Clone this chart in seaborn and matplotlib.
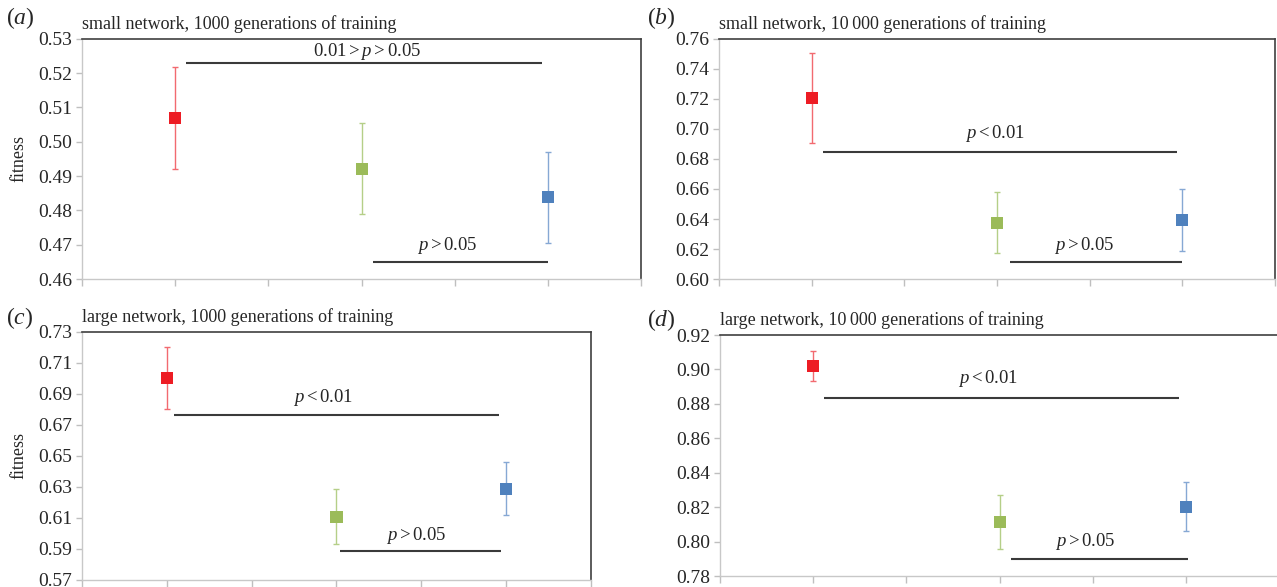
import numpy as np
import pandas as pd
import seaborn as sns
import matplotlib.pyplot as plt

# categories (three treatments, x positions 1..3)
groups = ['red', 'green', 'blue']
xpos = [1, 2, 3]
colors = ['#ed1c24', '#9bbb59', '#4f81bd']
err_colors = ['#f26a70', '#b5cf88', '#86a8d4']

panel_tags = ['a', 'b', 'c', 'd']
titles = ['small network, 1000 generations of training',
          'small network, 10\u2009000 generations of training',
          'large network, 1000 generations of training',
          'large network, 10\u2009000 generations of training']

# (a) small network, 1000 generations
mean_a = [0.5070, 0.4921, 0.4838]
low_a = [0.4921, 0.4789, 0.4704]
high_a = [0.5219, 0.5054, 0.4970]
# (b) small network, 10 000 generations
mean_b = [0.7204, 0.6376, 0.6394]
low_b = [0.6908, 0.6173, 0.6187]
high_b = [0.7504, 0.6581, 0.6603]
# (c) large network, 1000 generations
mean_c = [0.6999, 0.6104, 0.6287]
low_c = [0.6802, 0.5928, 0.6115]
high_c = [0.7203, 0.6282, 0.6458]
# (d) large network, 10 000 generations
mean_d = [0.9020, 0.8112, 0.8201]
low_d = [0.8933, 0.7957, 0.8059]
high_d = [0.9107, 0.8269, 0.8344]

yrange_a = (0.46, 0.53, 0.01)
yrange_b = (0.60, 0.76, 0.02)
yrange_c = (0.57, 0.73, 0.02)
yrange_d = (0.78, 0.92, 0.02)

# significance brackets: (x0, x1, y_line, text, x_text, y_text)
sig_a = [(1.06, 2.97, 0.5229, r'$\mathrm{0.01} > p > \mathrm{0.05}$', 2.03, 0.5262),
         (2.06, 3.00, 0.4649, r'$p > \mathrm{0.05}$', 2.46, 0.4699)]
sig_b = [(1.06, 2.97, 0.6843, r'$p < \mathrm{0.01}$', 1.99, 0.6972),
         (2.07, 3.00, 0.6111, r'$p > \mathrm{0.05}$', 2.47, 0.6227)]
sig_c = [(1.04, 2.96, 0.6763, r'$p < \mathrm{0.01}$', 1.92, 0.6875),
         (2.02, 2.97, 0.5883, r'$p > \mathrm{0.05}$', 2.47, 0.5985)]
sig_d = [(1.06, 2.96, 0.8836, r'$p < \mathrm{0.01}$', 1.94, 0.8945),
         (2.06, 3.01, 0.7901, r'$p > \mathrm{0.05}$', 2.46, 0.8003)]

sns.set_style('white')
plt.rcParams['font.family'] = ['Liberation Serif', 'DejaVu Serif']
plt.rcParams['mathtext.fontset'] = 'custom'
plt.rcParams['mathtext.rm'] = 'Liberation Serif'
plt.rcParams['mathtext.it'] = 'Liberation Serif:italic'

fig = plt.figure(figsize=(12.77, 5.87), dpi=100)
boxes = [[0.0642, 0.5245, 0.4378, 0.4095],
         [0.5630, 0.5245, 0.4354, 0.4095],
         [0.0642, 0.0125, 0.3986, 0.4224],
         [0.5638, 0.0187, 0.4380, 0.4106]]
tag_pos = [(0.005, 0.970), (0.507, 0.970), (0.005, 0.458), (0.507, 0.455)]

means = [mean_a, mean_b, mean_c, mean_d]
lows = [low_a, low_b, low_c, low_d]
highs = [high_a, high_b, high_c, high_d]
yranges = [yrange_a, yrange_b, yrange_c, yrange_d]
sigs = [sig_a, sig_b, sig_c, sig_d]

for i in range(4):
    ax = fig.add_axes(boxes[i])
    df = pd.DataFrame({'x': xpos, 'fitness': means[i], 'group': groups,
                       'low': lows[i], 'high': highs[i]})

    for j, row in df.iterrows():
        ax.errorbar(row['x'], row['fitness'],
                    yerr=[[row['fitness'] - row['low']], [row['high'] - row['fitness']]],
                    fmt='none', ecolor=err_colors[j], elinewidth=1.0,
                    capsize=2.5, capthick=1.0, zorder=2)
    sns.scatterplot(data=df, x='x', y='fitness', hue='group', palette=colors,
                    marker='s', s=75, edgecolor='none', legend=False, ax=ax, zorder=3)

    for x0, x1, yl, txt, xt, yt in sigs[i]:
        ax.hlines(yl, x0, x1, color='#3a3a3a', lw=1.5, zorder=1)
        ax.text(xt, yt, txt, ha='center', va='center', fontsize=13.5)

    lo, hi, step = yranges[i]
    ax.set_ylim(lo, hi)
    ax.set_yticks(np.arange(lo, hi + step / 2, step))
    ax.yaxis.set_major_formatter(plt.FormatStrFormatter('%.2f'))
    ax.set_xlim(0.5, 3.5)
    ax.set_xticks(np.arange(0.5, 3.51, 0.5))
    ax.set_xticklabels([])
    ax.tick_params(axis='y', labelsize=14, length=4, width=1, color='#bfbfbf',
                   direction='out', left=True, pad=3)
    ax.tick_params(axis='x', length=5, width=1, color='#bfbfbf',
                   direction='out', bottom=True)
    ax.set_xlabel('')
    if i in (0, 2):
        ax.set_ylabel('fitness', fontsize=13, labelpad=8)
    else:
        ax.set_ylabel('')
    for side in ['left', 'bottom']:
        ax.spines[side].set_color('#c8c8c8')
        ax.spines[side].set_linewidth(1.0)
    for side in ['top', 'right']:
        ax.spines[side].set_color('#404040')
        ax.spines[side].set_linewidth(1.2)
    ax.set_title(titles[i], loc='left', fontsize=13, pad=7)
    fig.text(tag_pos[i][0], tag_pos[i][1], '($' + panel_tags[i] + '$)',
             fontsize=17, va='center', ha='left')

fig.savefig('out.png', dpi=100)
